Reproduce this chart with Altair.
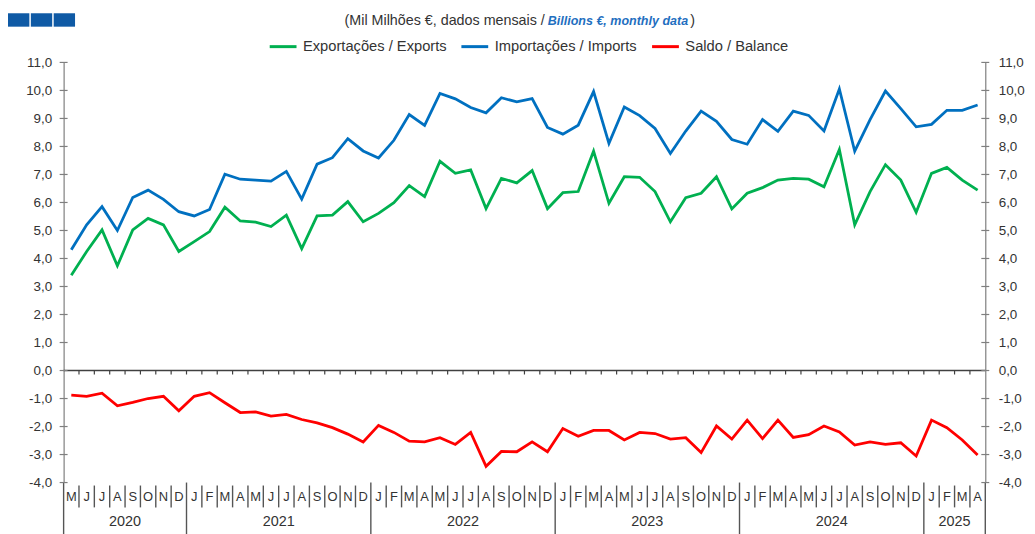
import altair as alt
import pandas as pd

# ---------------- data ----------------
months = (["M", "J", "J", "A", "S", "O", "N", "D"]
          + ["J", "F", "M", "A", "M", "J", "J", "A", "S", "O", "N", "D"] * 4
          + ["J", "F", "M", "A"])
years = ["2020", "2021", "2022", "2023", "2024", "2025"]
months_per_year = [8, 12, 12, 12, 12, 4]

exports = [3.40, 4.25, 5.02, 3.74, 5.02, 5.43, 5.20, 4.25,
           4.60, 4.96, 5.83, 5.34, 5.30, 5.14, 5.55, 4.35, 5.52, 5.55, 6.03, 5.31,
           5.61, 5.99, 6.60, 6.21, 7.47, 7.04, 7.16, 5.78, 6.86, 6.70, 7.14, 5.78,
           6.35, 6.39, 7.83, 5.97, 6.92, 6.90, 6.39, 5.31, 6.17, 6.33, 6.92, 5.77,
           6.33, 6.53, 6.80, 6.86, 6.83, 6.56, 7.89, 5.20, 6.39, 7.35, 6.80, 5.65,
           7.04, 7.25, 6.80, 6.44]
imports = [4.31, 5.20, 5.85, 5.00, 6.18, 6.44, 6.11, 5.67,
           5.52, 5.75, 7.01, 6.83, 6.80, 6.76, 7.11, 6.12, 7.37, 7.60, 8.28, 7.84,
           7.59, 8.22, 9.14, 8.75, 9.89, 9.70, 9.39, 9.20, 9.74, 9.59, 9.71, 8.68,
           8.44, 8.76, 9.96, 8.11, 9.41, 9.10, 8.64, 7.75, 8.55, 9.26, 8.90, 8.25,
           8.08, 8.96, 8.54, 9.26, 9.11, 8.55, 10.05, 7.83, 8.96, 9.98, 9.35, 8.70,
           8.79, 9.29, 9.29, 9.48]
balance = [-0.88, -0.92, -0.81, -1.26, -1.14, -1.00, -0.92, -1.44,
           -0.92, -0.79, -1.15, -1.50, -1.48, -1.63, -1.57, -1.75, -1.87, -2.04, -2.27, -2.55,
           -1.96, -2.21, -2.52, -2.55, -2.40, -2.64, -2.21, -3.42, -2.89, -2.90, -2.55, -2.90,
           -2.07, -2.35, -2.14, -2.14, -2.48, -2.21, -2.25, -2.45, -2.40, -2.93, -1.98, -2.45,
           -1.77, -2.43, -1.77, -2.39, -2.29, -1.98, -2.19, -2.66, -2.55, -2.64, -2.58, -3.05,
           -1.77, -2.04, -2.48, -3.02]

series_names = ["Exportações / Exports", "Importações / Imports", "Saldo / Balance"]
series_colors = ["#00b050", "#0070c0", "#ff0000"]
y_ticks = list(range(-4, 12))

title_part1 = "(Mil Milhões €, dados mensais /"
title_part2 = "Billions €, monthly data"
title_part3 = ")"

# ---------------- layout ----------------
W, H = 928, 423
FONT = "Liberation Sans"
TXT = "#333333"
AX = "#7f7f7f"
SEP = "#555555"

n = len(months)
idx = list(range(n))

df = pd.DataFrame({
    "i": idx * 3,
    "series": [s for s in series_names for _ in idx],
    "value": exports + imports + balance,
})

xscale = alt.Scale(domain=[-0.5, n - 0.5], nice=False, zero=False)
yscale = alt.Scale(domain=[y_ticks[0], y_ticks[-1]], nice=False, zero=False)
label_expr = "(datum.value < 0 ? '-' : '') + replace(format(abs(datum.value), '.1f'), '.', ',')"


def y_axis(orient, pad):
    return alt.Axis(orient=orient, values=y_ticks, labelExpr=label_expr, ticks=False,
                    domainColor=AX, domainWidth=1.2, grid=False, title=None,
                    labelFontSize=13.5, labelColor=TXT, labelFont=FONT, labelPadding=pad)


X = lambda f: alt.X(f, type="quantitative", scale=xscale, axis=None)
Y = lambda f: alt.Y(f, type="quantitative", scale=yscale, axis=y_axis("left", 12))

lines = alt.Chart(df).mark_line(strokeWidth=2.8).encode(
    x=X("i"),
    y=Y("value"),
    color=alt.Color("series:N",
                    scale=alt.Scale(domain=series_names, range=series_colors),
                    sort=series_names,
                    legend=alt.Legend(title=None, orient="none", legendX=206, legendY=-31,
                                      direction="horizontal", columns=3,
                                      symbolType="stroke", symbolSize=729,
                                      symbolStrokeWidth=3, labelFontSize=14.8,
                                      labelFont=FONT, labelColor=TXT,
                                      columnPadding=8, labelOffset=5)),
)

ticks_df = pd.DataFrame({"v": y_ticks})
left_ticks = alt.Chart(ticks_df).mark_rule(color=AX, strokeWidth=1.2).encode(
    x=alt.value(-4), x2=alt.value(4), y=Y("v"))

zero_line = alt.Chart(pd.DataFrame({"v": [0]})).mark_rule(color="#404040", strokeWidth=1.3).encode(
    x=alt.value(0), x2=alt.value(W), y=Y("v"))

bounds = [j + 0.5 for j in range(n - 1)]
zero_ticks = alt.Chart(pd.DataFrame({"b": bounds, "z": [0] * len(bounds)})).mark_rule(
    color="#404040", strokeWidth=1.2, y2Offset=4).encode(
    x=X("b"), y=Y("z"), y2="z:Q")

# year boundaries
year_bounds = [-0.5]
for c in months_per_year:
    year_bounds.append(year_bounds[-1] + c)
year_centers = [(year_bounds[k] + year_bounds[k + 1]) / 2 for k in range(len(years))]

month_seps = alt.Chart(pd.DataFrame({"b": [b for b in bounds if b not in year_bounds]})).mark_rule(
    color=SEP, strokeWidth=1.4).encode(x=X("b"), y=alt.value(H + 3), y2=alt.value(H + 25))

month_text = alt.Chart(pd.DataFrame({"i": idx, "m": months})).mark_text(
    fontSize=13, font=FONT, color=TXT, baseline="middle").encode(
    x=X("i"), y=alt.value(H + 15), text="m:N")

year_seps = alt.Chart(pd.DataFrame({"b": year_bounds})).mark_rule(
    color=SEP, strokeWidth=1.4).encode(x=X("b"), y=alt.value(H), y2=alt.value(H + 70))

year_text = alt.Chart(pd.DataFrame({"c": year_centers, "y": years})).mark_text(
    fontSize=14.5, font=FONT, color=TXT, baseline="middle").encode(
    x=X("c"), y=alt.value(H + 40), text="y:N")

one = pd.DataFrame({"k": [0]})
t1 = alt.Chart(one).mark_text(fontSize=14.4, font=FONT, color=TXT, align="right",
                              baseline="middle", text=title_part1).encode(
    x=alt.value(484.5), y=alt.value(-42))
t2 = alt.Chart(one).mark_text(fontSize=12.6, font=FONT, color="#1f6fbf", align="left",
                              baseline="middle", fontWeight="bold", fontStyle="italic",
                              text=title_part2).encode(
    x=alt.value(487.5), y=alt.value(-42))
t3 = alt.Chart(one).mark_text(fontSize=14.4, font=FONT, color=TXT, align="left",
                              baseline="middle", text=title_part3).encode(
    x=alt.value(631), y=alt.value(-42))

squares = [
    alt.Chart(one).mark_rect(color="#0f5aa5").encode(
        x=alt.value(x0), x2=alt.value(x0 + 21.5), y=alt.value(-49.5), y2=alt.value(-36))
    for x0 in (-56, -33, -10)
]

right_ticks = alt.Chart(ticks_df).mark_rule(color=AX, strokeWidth=1.2).encode(
    x=alt.value(W - 4), x2=alt.value(W + 4),
    y=alt.Y("v:Q", scale=yscale, axis=y_axis("right", 13)))

left = alt.layer(zero_line, zero_ticks, month_seps, year_seps, left_ticks, lines,
                 month_text, year_text, t1, t2, t3, *squares)

chart = alt.layer(left, right_ticks).resolve_scale(y="independent").properties(
    width=W, height=H,
    autosize=alt.AutoSizeParams(type="none"),
    padding={"left": 56, "top": 53, "right": 42, "bottom": 50},
    background="white",
).configure_view(strokeWidth=0)

chart.save("out.html", embed_options={"renderer": "svg", "actions": False})
